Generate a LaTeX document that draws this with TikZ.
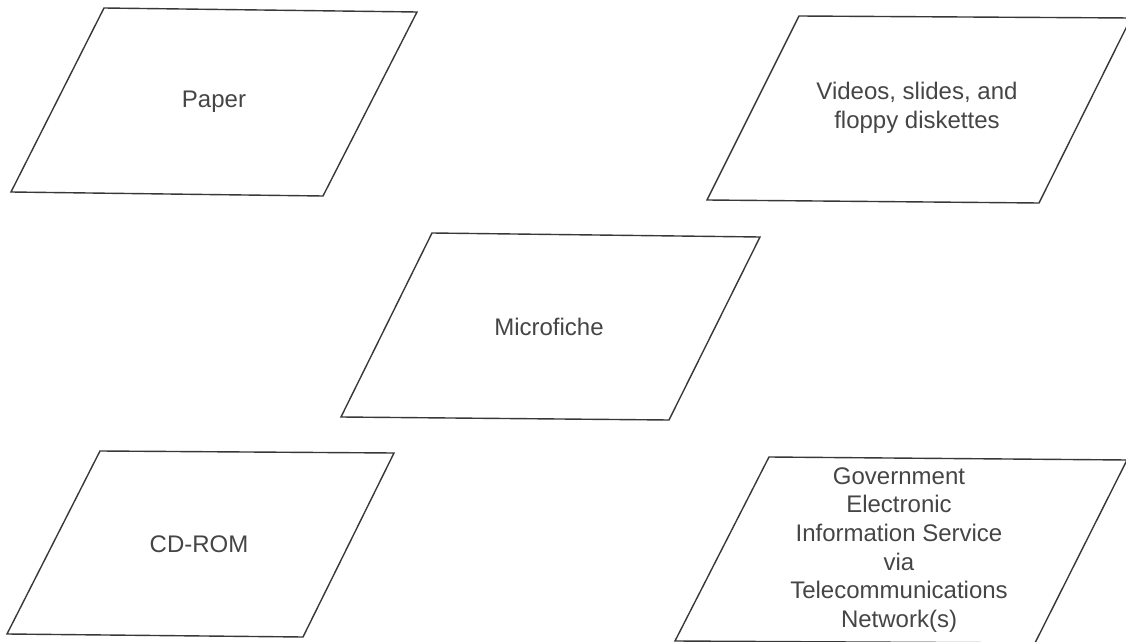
\documentclass[tikz,border=0pt]{standalone}
\usepackage{fontspec}
\setmainfont{Liberation Sans}
\definecolor{linecol}{HTML}{383838}
\definecolor{textcol}{HTML}{454545}
\begin{document}
\begin{tikzpicture}[x=0.5pt,y=-0.5pt,
  para/.style={draw=linecol, line width=0.7pt, line join=miter},
  lbl/.style={text=textcol, align=center, font=\fontsize{12pt}{14.3pt}\selectfont, inner sep=0pt}]
\useasboundingbox (0,0) rectangle (1126,642);
\clip (0,0) rectangle (1126,642);
% Paper
\draw[para] (104,8) -- (417,12) -- (323,196) -- (11,192) -- cycle;
\node[lbl] (paper) at (214,102) {Paper};
% Videos
\draw[para] (799,16) -- (1131,18) -- (1039,203) -- (707,200) -- cycle;
\node[lbl] (videos) at (917,108) {Videos, slides, and\\floppy diskettes};
% Microfiche
\draw[para] (432,233) -- (760,237) -- (669,420) -- (341,417) -- cycle;
\node[lbl] (micro) at (549,327) {Microfiche};
% CD-ROM
\draw[para] (100,451) -- (394,453) -- (303,637) -- (7,634) -- cycle;
\node[lbl] (cdrom) at (199,544) {CD-ROM};
% Government
\draw[para] (769,457) -- (1127,460) -- (1035,643) -- (675,641) -- cycle;
\node[lbl] (gov) at (899,550) {Government\\Electronic\\Information Service\\via\\Telecommunications\\Network(s)};
\end{tikzpicture}
\end{document}
